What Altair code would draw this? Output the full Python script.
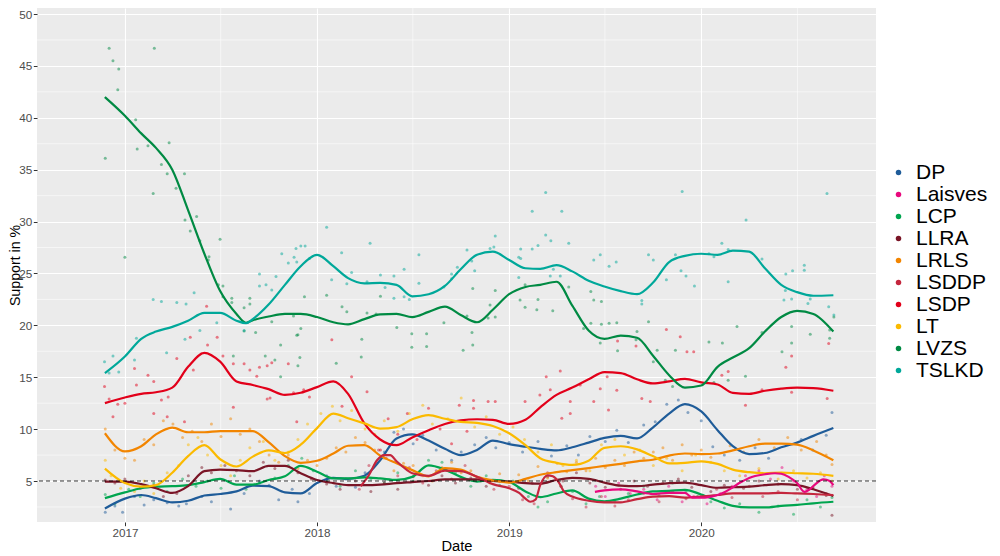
import altair as alt
import pandas as pd

parties = ["DP", "Laisves", "LCP", "LLRA", "LRLS", "LSDDP", "LSDP", "LT", "LVZS", "TSLKD"]
colors = ["#1F5C99", "#E8097D", "#00A54F", "#7A1526", "#F28500",
          "#C4263D", "#E2001A", "#FBBA00", "#008A43", "#00A89A"]

# common monthly grid for the smoothed lines
grid = ["2016-11-24"] + [f"{y}-{m:02d}-01" for y in (2017, 2018, 2019) for m in range(1, 13)] \
       + [f"2020-{m:02d}-01" for m in range(1, 9)] + ["2020-09-08"]

dp_line = [2.35, 3.3, 3.65, 3.35, 2.95, 3.1, 3.6, 3.75, 4.0, 4.55, 4.5, 3.9, 3.8, 4.8, 5.3, 5.2,
           5.5, 7.0, 9.1, 9.5, 8.9, 8.1, 7.5, 8.0, 8.9, 8.55, 8.3, 8.1, 7.95, 8.25, 8.7, 9.15,
           9.35, 9.1, 10.15, 11.5, 12.4, 11.7, 9.9, 8.35, 7.6, 7.7, 8.25, 8.7, 9.35, 10.1]
lcp_line = [3.35, 3.9, 4.3, 4.45, 4.5, 4.6, 4.9, 5.2, 4.65, 4.65, 5.1, 5.45, 6.45, 5.9, 5.25, 5.25,
            5.35, 5.25, 5.1, 5.4, 6.5, 6.1, 5.4, 4.95, 5.1, 4.9, 4.0, 3.45, 3.8, 4.1, 3.3, 3.05,
            3.3, 3.7, 4.0, 4.05, 4.15, 3.7, 3.1, 2.6, 2.45, 2.45, 2.6, 2.7, 2.85, 3.0]
llra_line = [4.95, 4.95, 4.7, 4.3, 3.85, 4.5, 5.95, 6.1, 6.05, 5.95, 6.45, 6.45, 5.75, 5.1, 4.8, 4.6,
             4.6, 4.65, 4.8, 4.9, 5.0, 5.15, 5.15, 5.15, 5.0, 4.95, 4.8, 4.75, 5.1, 5.3, 5.2, 4.85,
             4.55, 4.5, 4.65, 4.8, 4.85, 4.6, 4.35, 4.4, 4.45, 4.6, 4.7, 4.6, 4.2, 3.55]
lrls_line = [9.6, 7.85, 8.35, 9.5, 10.15, 9.7, 9.7, 9.8, 9.8, 9.8, 8.75, 7.4, 6.75, 6.95, 7.65, 8.4,
             8.45, 7.45, 6.7, 6.05, 5.45, 6.25, 6.1, 5.4, 5.05, 4.85, 5.2, 5.6, 5.85, 6.05, 6.25, 6.45,
             6.65, 6.9, 7.05, 7.45, 7.65, 7.6, 7.65, 7.95, 8.35, 8.6, 8.6, 8.5, 7.95, 7.0]
lsdp_line = [12.5, 13.05, 13.4, 13.55, 14.0, 16.0, 17.35, 16.5, 14.6, 14.25, 13.85, 13.3, 13.5, 14.05,
             14.6, 13.4, 10.55, 9.0, 8.45, 9.2, 9.9, 10.5, 10.85, 10.95, 10.9, 10.5, 10.9, 12.1, 13.3,
             14.0, 14.8, 15.5, 15.4, 14.8, 14.4, 14.6, 14.85, 14.5, 14.3, 13.5, 13.4, 13.7, 13.9, 14.0,
             13.95, 13.7]
lt_line = [6.2, 4.8, 4.45, 4.6, 5.8, 7.4, 8.45, 7.1, 6.4, 7.35, 7.95, 7.7, 8.5, 10.1, 11.5, 11.05,
           10.55, 10.05, 10.2, 10.95, 11.35, 11.0, 10.7, 10.6, 10.3, 9.6, 8.45, 7.2, 6.75, 6.55, 6.95,
           8.2, 8.35, 8.05, 7.4, 6.7, 6.75, 6.9, 6.65, 6.1, 5.85, 5.75, 5.8, 5.75, 5.7, 5.5]

# LVZS and TSLKD get one extra point at their crossing in August 2017
grid_vt = grid[:9] + ["2017-08-19"] + grid[9:]
lvzs_line = [42.0, 40.2, 38.5, 37.1, 35.0, 31.1, 26.9, 23.3, 21.1, 20.25, 20.5, 20.85, 21.1, 21.1,
             20.8, 20.3, 20.1, 20.6, 21.05, 21.1, 20.8, 21.3, 21.8, 21.0, 20.3, 21.5, 23.0, 23.7,
             23.9, 24.2, 21.9, 19.5, 18.7, 19.0, 18.8, 17.1, 15.2, 14.0, 14.2, 16.0, 16.9, 17.8,
             19.4, 20.8, 21.4, 21.1, 19.4]
tslkd_line = [15.4, 17.0, 18.7, 19.4, 19.85, 20.45, 21.2, 21.2, 20.45, 20.2, 20.6, 22.0, 23.9, 25.7,
              26.8, 25.7, 24.55, 24.05, 24.1, 23.9, 22.8, 23.0, 23.8, 25.4, 26.8, 27.1, 26.3, 25.5,
              25.45, 25.8, 25.2, 24.3, 23.75, 23.3, 23.0, 24.1, 26.1, 26.7, 26.9, 26.8, 27.2, 27.1,
              25.5, 23.9, 23.2, 22.85, 22.9]

lsddp_dates = ["2018-03-25", "2018-04-10", "2018-04-25", "2018-05-08", "2018-05-20", "2018-06-01",
               "2018-06-20", "2018-07-01", "2018-08-01", "2018-09-01", "2018-10-01", "2018-11-01",
               "2018-12-01", "2019-01-01", "2019-01-20", "2019-02-01", "2019-02-10", "2019-02-20",
               "2019-03-01", "2019-03-15", "2019-03-25", "2019-04-05", "2019-04-15", "2019-05-01",
               "2019-06-01", "2019-07-01", "2019-08-01", "2019-09-01", "2019-10-01", "2019-11-01",
               "2019-12-01", "2020-01-01", "2020-02-01", "2020-03-01", "2020-04-01", "2020-05-01",
               "2020-06-01", "2020-07-01", "2020-08-01", "2020-09-08"]
lsddp_line = [4.5, 5.6, 7.0, 7.5, 7.5, 6.9, 6.1, 5.75, 5.5, 6.0, 5.95, 5.4, 4.7, 4.3, 3.85, 3.3,
              3.0, 3.2, 4.6, 5.55, 5.45, 4.9, 4.0, 3.5, 3.1, 2.95, 2.95, 3.25, 3.5, 3.55, 3.4, 3.5,
              3.65, 3.8, 3.8, 3.8, 3.85, 3.8, 3.75, 3.65]

laisves_dates = ["2019-06-13", "2019-07-01", "2019-08-01", "2019-09-01", "2019-10-01", "2019-11-01",
                 "2019-12-01", "2019-12-15", "2020-01-01", "2020-01-15", "2020-02-01", "2020-02-15",
                 "2020-03-01", "2020-03-15", "2020-04-01", "2020-05-01", "2020-05-20", "2020-06-01",
                 "2020-06-15", "2020-07-01", "2020-07-15", "2020-07-25", "2020-08-05", "2020-08-20",
                 "2020-09-01", "2020-09-08"]
laisves_line = [3.95, 4.1, 4.2, 4.0, 3.75, 3.85, 3.85, 3.4, 3.4, 3.45, 3.65, 3.95, 4.4, 4.85, 5.3,
                5.65, 5.75, 5.7, 5.4, 4.8, 3.95, 4.2, 4.7, 5.15, 5.0, 4.6]

# individual poll results: decimal year, value
tslkd_t = [2016.896, 2016.92, 2016.94, 2016.97, 2017.05, 2017.06, 2017.147, 2017.19, 2017.217, 2017.27,
           2017.3125, 2017.318, 2017.36, 2017.39, 2017.478, 2017.62, 2017.70, 2017.70, 2017.734, 2017.764,
           2017.786, 2017.816, 2017.85, 2017.88, 2017.89, 2017.915, 2017.9375, 2017.894, 2017.96, 2018.05,
           2018.076, 2018.128, 2018.18, 2018.155, 2018.276, 2018.26, 2018.33, 2018.354, 2018.40, 2018.40,
           2018.453, 2018.453, 2018.48, 2018.53, 2018.53, 2018.66, 2018.70, 2018.70, 2018.73, 2018.78,
           2018.805, 2018.82, 2018.90, 2018.92, 2018.927, 2019.05, 2019.06, 2019.06, 2019.12, 2019.12,
           2019.15, 2019.19, 2019.19, 2019.217, 2019.274, 2019.31, 2019.23, 2019.266, 2019.214, 2019.05,
           2019.44, 2019.474, 2019.52, 2019.557, 2019.69, 2019.69, 2019.725, 2019.75, 2019.818, 2019.865,
           2019.90, 2019.894, 2019.92, 2019.964, 2020.04, 2020.066, 2020.107, 2020.14, 2020.14, 2020.233,
           2020.316, 2020.44, 2020.475, 2020.536, 2020.536, 2020.4375, 2020.43, 2020.47, 2020.567,
           2020.555, 2020.654, 2020.663, 2020.69]
tslkd_v = [16.5, 15.4, 17.05, 15.5, 16.65, 18.75, 22.5, 22.3, 17.35, 22.2,
           18.65, 22.05, 23.15, 19.5, 20.25, 19.5, 24.95, 23.8, 23.9, 23.4,
           24.7, 26.9, 26.0, 26.55, 27.4, 27.65, 27.65, 26.1, 26.45, 29.45,
           24.4, 27.0, 25.1, 24.0, 27.9, 24.2, 24.85, 23.65, 24.75, 22.6,
           25.4, 22.75, 22.5, 26.8, 24.05, 23.7, 24.95, 24.5, 25.6, 27.25,
           26.2, 25.25, 27.4, 27.55, 28.6, 26.55, 26.45, 27.35, 27.35, 31.0,
           27.7, 32.8, 28.7, 28.15, 31.0, 27.9, 25.4, 24.75, 24.75, 24.6,
           26.3, 26.8, 25.7, 26.1, 22.4, 22.05, 26.8, 26.3, 24.4, 26.8,
           32.9, 25.25, 24.75, 23.8, 26.9, 26.6, 27.9, 27.3, 24.2, 30.15,
           26.4, 24.95, 25.25, 25.8, 25.3, 23.35, 22.45, 22.55, 22.55,
           22.1, 32.7, 21.8, 21.0]

lvzs_t = [2016.90, 2016.92, 2016.94, 2016.965, 2016.97, 2017.00, 2017.056, 2017.064, 2017.12, 2017.153,
          2017.147, 2017.19, 2017.22, 2017.23, 2017.266, 2017.31, 2017.3125, 2017.34, 2017.373, 2017.39,
          2017.434, 2017.4375, 2017.495, 2017.486, 2017.51, 2017.51, 2017.556, 2017.556, 2017.62, 2017.65,
          2017.65, 2017.62, 2017.68, 2017.764, 2017.877, 2017.90, 2017.915, 2017.934, 2018.05, 2018.13,
          2018.155, 2018.233, 2018.26, 2018.307, 2018.33, 2018.415, 2018.493, 2018.57, 2018.57, 2018.493,
          2018.66, 2018.76, 2018.806, 2018.81, 2018.78, 2018.89, 2018.90, 2018.927, 2018.927, 2018.81,
          2019.057, 2019.083, 2019.144, 2019.227, 2019.083, 2019.15, 2019.31, 2019.425, 2019.44, 2019.48,
          2019.425, 2019.48, 2019.52, 2019.56, 2019.387, 2019.474, 2019.564, 2019.725, 2019.665, 2019.66,
          2019.77, 2019.75, 2019.865, 2019.8125, 2019.85, 2020.04, 2020.11, 2020.186, 2020.316, 2020.47,
          2020.47, 2020.42, 2020.567, 2020.668, 2020.668, 2020.69, 2020.23, 2020.14, 2020.066,
          2017.564, 2017.73, 2017.78, 2017.81, 2017.81, 2017.90, 2017.91, 2017.894, 2018.10, 2018.23]
lvzs_v = [36.1, 46.7, 45.5, 42.7, 44.7, 26.55, 39.8, 37.0, 37.3, 46.7,
          32.7, 35.5, 34.6, 37.6, 33.2, 34.6, 30.15, 29.1, 30.5, 28.15,
          26.3, 26.6, 28.3, 23.9, 23.8, 22.75, 22.6, 22.2, 21.7, 22.6,
          22.05, 19.45, 19.3, 20.35, 20.9, 19.1, 19.7, 22.75, 22.9, 21.8,
          21.3, 18.65, 21.2, 21.1, 22.8, 19.8, 19.2, 19.2, 17.95, 17.9,
          20.25, 17.6, 19.3, 18.1, 20.9, 20.7, 21.95, 20.8, 23.35, 23.55,
          22.45, 21.75, 21.5, 21.4, 23.9, 22.5, 23.7, 23.25, 22.45, 22.3,
          20.2, 20.1, 20.2, 20.25, 19.7, 18.3, 17.55, 20.35, 19.4, 18.6,
          17.6, 16.5, 17.6, 14.7, 14.1, 18.4, 18.3, 19.9, 19.3, 19.9,
          18.3, 17.45, 19.15, 19.55, 18.75, 20.8, 15.1, 14.7, 14.5,
          17.05, 17.05, 16.65, 18.1, 15.05, 16.1, 16.9, 19.05, 16.35, 16.95]

lsdp_t = [2016.896, 2016.92, 2016.94, 2016.965, 2017.0, 2017.05, 2017.06, 2017.12, 2017.15, 2017.15,
          2017.19, 2017.22, 2017.225, 2017.27, 2017.31, 2017.34, 2017.356, 2017.425, 2017.43, 2017.48,
          2017.51, 2017.564, 2017.564, 2017.62, 2017.65, 2017.686, 2017.70, 2017.74, 2017.74, 2017.755,
          2017.764, 2017.85, 2017.877, 2017.894, 2017.93, 2017.96, 2018.077, 2018.13, 2018.18, 2018.26,
          2018.33, 2018.37, 2018.42, 2018.47, 2018.52, 2018.58, 2018.64, 2018.70, 2018.74, 2018.78,
          2018.814, 2018.814, 2018.89, 2018.927, 2019.083, 2019.16, 2019.214, 2019.274, 2019.318, 2019.318,
          2019.193, 2019.266, 2019.37, 2019.44, 2019.474, 2019.51, 2019.517, 2019.56, 2019.564, 2019.66,
          2019.69, 2019.734, 2019.818, 2019.89, 2019.925, 2019.96, 2020.107, 2020.14, 2020.23, 2020.316,
          2020.44, 2020.47, 2020.47, 2020.655, 2020.663]
lsdp_v = [14.1, 12.9, 11.2, 12.4, 12.5, 15.85, 14.25, 15.2, 14.6, 11.5,
          12.8, 11.2, 13.1, 16.8, 10.7, 18.85, 15.7, 21.85, 18.1, 18.85,
          17.05, 16.3, 12.1, 16.3, 15.7, 15.1, 15.95, 16.1, 12.9, 13.0,
          16.4, 16.3, 13.5, 10.7, 13.8, 13.1, 18.6, 12.2, 15.05, 13.6,
          8.0, 11.0, 9.5, 11.5, 9.0, 12.0, 10.0, 8.6, 12.3, 9.8,
          12.75, 12.0, 12.65, 12.65, 12.65, 13.3, 13.8, 11.05, 11.5, 12.65,
          15.05, 15.6, 14.25, 12.65, 13.9, 15.05, 11.85, 13.75, 18.5, 18.0,
          12.95, 12.65, 19.6, 18.9, 17.45, 17.45, 15.2, 15.55, 12.3, 13.8,
          15.95, 17.05, 13.55, 12.95, 18.25]

dp_t = [2016.90, 2016.95, 2016.99, 2017.05, 2017.10, 2017.15, 2017.22, 2017.28, 2017.32, 2017.40,
        2017.45, 2017.55, 2017.62, 2017.70, 2017.75, 2017.80, 2017.87, 2017.90, 2017.96, 2018.05,
        2018.10, 2018.15, 2018.20, 2018.25, 2018.30, 2018.35, 2018.40, 2018.45, 2018.50, 2018.55,
        2018.62, 2018.70, 2018.75, 2018.82, 2018.88, 2018.93, 2019.00, 2019.07, 2019.15, 2019.22,
        2019.30, 2019.36, 2019.42, 2019.50, 2019.56, 2019.62, 2019.70, 2019.76, 2019.82, 2019.88,
        2019.93, 2020.00, 2020.06, 2020.12, 2020.20, 2020.28, 2020.35, 2020.45, 2020.52, 2020.58,
        2020.65, 2020.68]
dp_v = [2.0, 2.6, 2.0, 3.5, 2.7, 3.2, 2.9, 2.6, 2.8, 3.5,
        3.0, 2.3, 3.8, 5.0, 4.6, 3.2, 4.2, 3.0, 3.8, 5.5,
        4.5, 5.2, 4.4, 5.8, 6.5, 7.8, 9.7, 10.0, 8.6, 9.4,
        8.0, 7.0, 7.8, 8.5, 9.2, 8.2, 8.7, 7.8, 8.8, 7.4,
        8.4, 7.5, 9.3, 8.8, 9.9, 8.7, 10.4, 10.7, 12.4, 12.8,
        11.6, 10.8, 8.3, 7.5, 7.0, 8.2, 7.2, 8.5, 9.0, 8.0,
        9.4, 11.6]

lrls_t = [2016.90, 2016.95, 2017.0, 2017.05, 2017.1, 2017.15, 2017.2, 2017.25, 2017.3, 2017.35,
          2017.4, 2017.45, 2017.5, 2017.55, 2017.6, 2017.65, 2017.7, 2017.75, 2017.8, 2017.85,
          2017.9, 2017.95, 2018.0, 2018.05, 2018.1, 2018.15, 2018.2, 2018.25, 2018.3, 2018.35,
          2018.4, 2018.45, 2018.5, 2018.55, 2018.6, 2018.65, 2018.7, 2018.75, 2018.8, 2018.85,
          2018.9, 2018.95, 2019.0, 2019.05, 2019.1, 2019.15, 2019.2, 2019.25, 2019.3, 2019.35,
          2019.4, 2019.45, 2019.5, 2019.55, 2019.6, 2019.65, 2019.7, 2019.75, 2019.8, 2019.85,
          2019.9, 2019.95, 2020.0, 2020.05, 2020.15, 2020.22, 2020.3, 2020.38, 2020.45, 2020.52,
          2020.6, 2020.65, 2020.68]
lrls_v = [10.0, 8.0, 7.2, 7.0, 9.0, 8.5, 10.8, 10.5, 9.2, 9.8,
          8.8, 10.5, 9.3, 11.0, 9.5, 10.0, 8.8, 7.5, 6.8, 7.5,
          6.2, 7.0, 6.5, 7.2, 8.2, 7.8, 9.2, 8.7, 8.0, 7.2,
          6.0, 6.7, 6.5, 5.5, 5.0, 6.3, 6.8, 5.8, 6.0, 5.2,
          4.8, 5.7, 4.9, 5.6, 5.0, 6.4, 5.3, 6.7, 5.9, 6.8,
          6.0, 7.2, 6.3, 7.0, 6.5, 7.8, 7.2, 7.8, 8.2, 7.0,
          8.5, 7.5, 8.0, 7.3, 8.4, 7.8, 9.0, 8.2, 9.2, 8.0,
          8.8, 7.5, 6.6]

lt_t = [2016.90, 2016.93, 2016.98, 2017.05, 2017.1, 2017.15, 2017.22, 2017.28, 2017.33, 2017.38,
        2017.43, 2017.5, 2017.55, 2017.6, 2017.65, 2017.72, 2017.78, 2017.85, 2017.9, 2017.95,
        2018.02, 2018.08, 2018.12, 2018.18, 2018.25, 2018.3, 2018.35, 2018.42, 2018.48, 2018.55,
        2018.6, 2018.68, 2018.75, 2018.82, 2018.88, 2018.95, 2019.02, 2019.08, 2019.15, 2019.22,
        2019.28, 2019.35, 2019.42, 2019.48, 2019.55, 2019.6, 2019.68, 2019.75, 2019.82, 2019.9,
        2019.97, 2020.05, 2020.12, 2020.2, 2020.3, 2020.4, 2020.48, 2020.55, 2020.62, 2020.68]
lt_v = [7.0, 5.5, 4.3, 4.0, 5.0, 3.8, 5.8, 6.5, 8.5, 9.2,
        7.5, 6.5, 5.5, 7.0, 8.2, 8.8, 7.0, 7.8, 9.0, 10.5,
        11.5, 12.2, 10.8, 11.8, 10.0, 9.5, 10.8, 9.8, 11.5, 12.3,
        10.5, 11.0, 13.0, 10.2, 11.2, 9.5, 10.2, 9.0, 7.8, 8.5,
        6.5, 7.0, 6.0, 8.5, 9.0, 7.5, 8.0, 6.5, 7.2, 6.0,
        7.5, 6.8, 6.0, 5.5, 6.2, 5.2, 6.0, 5.3, 5.8, 5.0]

llra_t = [2016.90, 2016.95, 2017.0, 2017.08, 2017.15, 2017.2, 2017.27, 2017.33, 2017.4, 2017.45,
          2017.52, 2017.58, 2017.65, 2017.72, 2017.78, 2017.85, 2017.9, 2017.97, 2018.05, 2018.12,
          2018.2, 2018.28, 2018.35, 2018.42, 2018.5, 2018.58, 2018.65, 2018.72, 2018.8, 2018.88,
          2018.95, 2019.05, 2019.12, 2019.2, 2019.28, 2019.35, 2019.42, 2019.5, 2019.58, 2019.65,
          2019.72, 2019.8, 2019.88, 2019.95, 2020.05, 2020.12, 2020.22, 2020.3, 2020.4, 2020.5,
          2020.58, 2020.65, 2020.68]
llra_v = [5.1, 4.8, 5.2, 4.3, 4.6, 3.5, 3.8, 5.5, 6.3, 5.8,
          6.5, 6.0, 5.5, 6.8, 6.2, 7.0, 5.8, 5.2, 4.7, 4.2,
          5.0, 4.0, 4.8, 4.2, 5.4, 4.6, 5.5, 4.8, 5.3, 4.5,
          5.0, 4.3, 4.8, 5.4, 5.0, 5.8, 4.8, 4.4, 4.2, 5.0,
          4.5, 4.8, 5.2, 4.4, 4.0, 4.6, 4.3, 5.0, 4.7, 4.2,
          4.4, 3.6, 1.7]

lcp_t = [2016.90, 2016.95, 2017.02, 2017.08, 2017.15, 2017.22, 2017.3, 2017.37, 2017.43, 2017.5,
         2017.57, 2017.63, 2017.7, 2017.78, 2017.85, 2017.92, 2017.98, 2018.05, 2018.12, 2018.2,
         2018.28, 2018.35, 2018.42, 2018.5, 2018.58, 2018.65, 2018.72, 2018.8, 2018.88, 2018.95,
         2019.02, 2019.1, 2019.15, 2019.2, 2019.27, 2019.33, 2019.4, 2019.47, 2019.55, 2019.62,
         2019.7, 2019.78, 2019.85, 2019.92, 2019.98, 2020.05, 2020.12, 2020.2, 2020.3, 2020.4,
         2020.48, 2020.55, 2020.62, 2020.68]
lcp_v = [3.7, 2.8, 4.2, 3.5, 4.8, 4.0, 5.2, 4.5, 5.0, 4.3,
         5.5, 4.2, 4.8, 5.3, 6.5, 7.2, 6.0, 5.0, 4.5, 6.0,
         5.2, 4.8, 5.8, 5.0, 7.0, 6.8, 5.8, 4.5, 5.5, 4.6,
         5.0, 3.5, 2.5, 3.0, 4.5, 4.0, 2.8, 3.5, 3.0, 3.8,
         4.5, 3.6, 4.8, 4.0, 3.5, 3.0, 2.4, 2.8, 2.0, 2.6,
         1.8, 3.2, 2.5, 3.4]

lsddp_t = [2018.22, 2018.27, 2018.32, 2018.36, 2018.42, 2018.48, 2018.55, 2018.62, 2018.7, 2018.77,
           2018.85, 2018.92, 2019.0, 2019.07, 2019.13, 2019.2, 2019.27, 2019.33, 2019.4, 2019.48,
           2019.55, 2019.62, 2019.7, 2019.78, 2019.85, 2019.92, 2020.0, 2020.08, 2020.16, 2020.25,
           2020.32, 2020.4, 2020.5, 2020.58, 2020.65]
lsddp_v = [4.2, 6.5, 8.0, 7.2, 5.5, 6.3, 4.8, 6.0, 5.2, 6.5,
           5.0, 4.2, 4.5, 3.2, 2.8, 5.8, 4.5, 3.3, 2.5, 3.5,
           2.6, 3.2, 3.8, 3.0, 4.0, 3.3, 3.6, 4.2, 3.4, 4.5,
           3.5, 4.0, 3.2, 4.3, 3.8]

laisves_t = [2019.45, 2019.5, 2019.57, 2019.63, 2019.7, 2019.77, 2019.83, 2019.9, 2019.96, 2020.03,
             2020.1, 2020.16, 2020.23, 2020.3, 2020.36, 2020.42, 2020.48, 2020.55, 2020.6, 2020.64,
             2020.68]
laisves_v = [4.5, 3.5, 4.8, 3.8, 4.2, 3.2, 4.5, 3.0, 3.5, 2.8,
             3.8, 4.5, 5.5, 6.0, 5.2, 6.3, 5.0, 4.2, 3.5, 5.5,
             4.5]

y_ticks = [5, 10, 15, 20, 25, 30, 35, 40, 45, 50]
y_minor = [2.5, 7.5, 12.5, 17.5, 22.5, 27.5, 32.5, 37.5, 42.5, 47.5]
x_minor = ["2017-07-02", "2018-07-02", "2019-07-02", "2020-07-02"]
threshold = 5


def dec_to_date(t):
    y = int(t)
    d = pd.Timestamp(f"{y}-01-01") + pd.Timedelta(days=(t - y) * 365.25)
    return d.strftime("%Y-%m-%dT%H:%M:%S")


line_rows = []
for party, dates, vals in [
    ("DP", grid, dp_line), ("LCP", grid, lcp_line), ("LLRA", grid, llra_line),
    ("LRLS", grid, lrls_line), ("LSDP", grid, lsdp_line), ("LT", grid, lt_line),
    ("LVZS", grid_vt, lvzs_line), ("TSLKD", grid_vt, tslkd_line),
    ("LSDDP", lsddp_dates, lsddp_line), ("Laisves", laisves_dates, laisves_line)]:
    for d, v in zip(dates, vals):
        line_rows.append({"party": party, "date": d + "T00:00:00", "value": v})
lines_df = pd.DataFrame(line_rows)

pt_rows = []
for party, ts, vs in [
    ("DP", dp_t, dp_v), ("Laisves", laisves_t, laisves_v), ("LCP", lcp_t, lcp_v),
    ("LLRA", llra_t, llra_v), ("LRLS", lrls_t, lrls_v), ("LSDDP", lsddp_t, lsddp_v),
    ("LSDP", lsdp_t, lsdp_v), ("LT", lt_t, lt_v), ("LVZS", lvzs_t, lvzs_v),
    ("TSLKD", tslkd_t, tslkd_v)]:
    for t, v in zip(ts, vs):
        pt_rows.append({"party": party, "date": dec_to_date(t), "value": v})
pts_df = pd.DataFrame(pt_rows)

FONT = "Liberation Sans"
x_scale = alt.Scale(domain=[alt.DateTime(year=2016, month=7, date=18),
                            alt.DateTime(year=2020, month=11, date=28)])
y_scale = alt.Scale(domain=[1.05, 50.58], nice=False, zero=False)
color_scale = alt.Scale(domain=parties, range=colors)

x_axis = alt.Axis(values=[alt.DateTime(year=y, month=1, date=1) for y in (2017, 2018, 2019, 2020)],
                  format="%Y", title="Date", grid=True)
y_axis = alt.Axis(values=y_ticks, title="Support in %", grid=True,
                  titleX=-21.5, titleBaseline="middle", titleFontSize=14.2)

xminor = alt.Chart(pd.DataFrame({"date": [d + "T00:00:00" for d in x_minor]})).mark_rule(
    color="white", strokeWidth=0.55).encode(x=alt.X("date:T", scale=x_scale, axis=x_axis))
yminor = alt.Chart(pd.DataFrame({"v": y_minor})).mark_rule(
    color="white", strokeWidth=0.55).encode(y=alt.Y("v:Q", scale=y_scale, axis=y_axis))

points = alt.Chart(pts_df).mark_circle(size=9, opacity=0.5).encode(
    x=alt.X("date:T", scale=x_scale, axis=x_axis),
    y=alt.Y("value:Q", scale=y_scale, axis=y_axis),
    color=alt.Color("party:N", scale=color_scale,
                    legend=alt.Legend(title=None, orient="none", legendX=851, legendY=154,
                                      symbolType="circle", symbolSize=30, symbolOpacity=1,
                                      symbolStrokeWidth=0, labelFontSize=21, labelFont=FONT,
                                      labelColor="black", labelOffset=7, rowPadding=0,
                                      padding=0, labelLimit=200)),
)

lines = alt.Chart(lines_df).mark_line(strokeWidth=2.2, interpolate="monotone").encode(
    x=alt.X("date:T", scale=x_scale, axis=x_axis),
    y=alt.Y("value:Q", scale=y_scale, axis=y_axis),
    color=alt.Color("party:N", scale=color_scale, legend=None),
)

thresh = alt.Chart(pd.DataFrame({"v": [threshold]})).mark_rule(
    color="black", strokeWidth=0.8, strokeDash=[4, 3]).encode(
    y=alt.Y("v:Q", scale=y_scale, axis=y_axis))

chart = alt.layer(xminor, yminor, points, lines, thresh).properties(
    width=839, height=514,
    autosize=alt.AutoSizeParams(type="none"),
    padding={"left": 29, "top": 0, "right": 115, "bottom": 34},
).configure_view(
    fill="#EBEBEB", stroke=None
).configure_axis(
    domain=False, gridColor="white", gridWidth=1.1, tickColor="#333333", tickSize=3.7,
    tickWidth=1.0, labelColor="#4D4D4D", labelFontSize=11.7, labelFont=FONT,
    titleFont=FONT, titleFontSize=14.7, titleFontWeight="normal", titleColor="black",
    labelPadding=1.5,
).configure_axisX(titlePadding=0)

chart.save("out.html", embed_options={"renderer": "svg", "actions": False})
